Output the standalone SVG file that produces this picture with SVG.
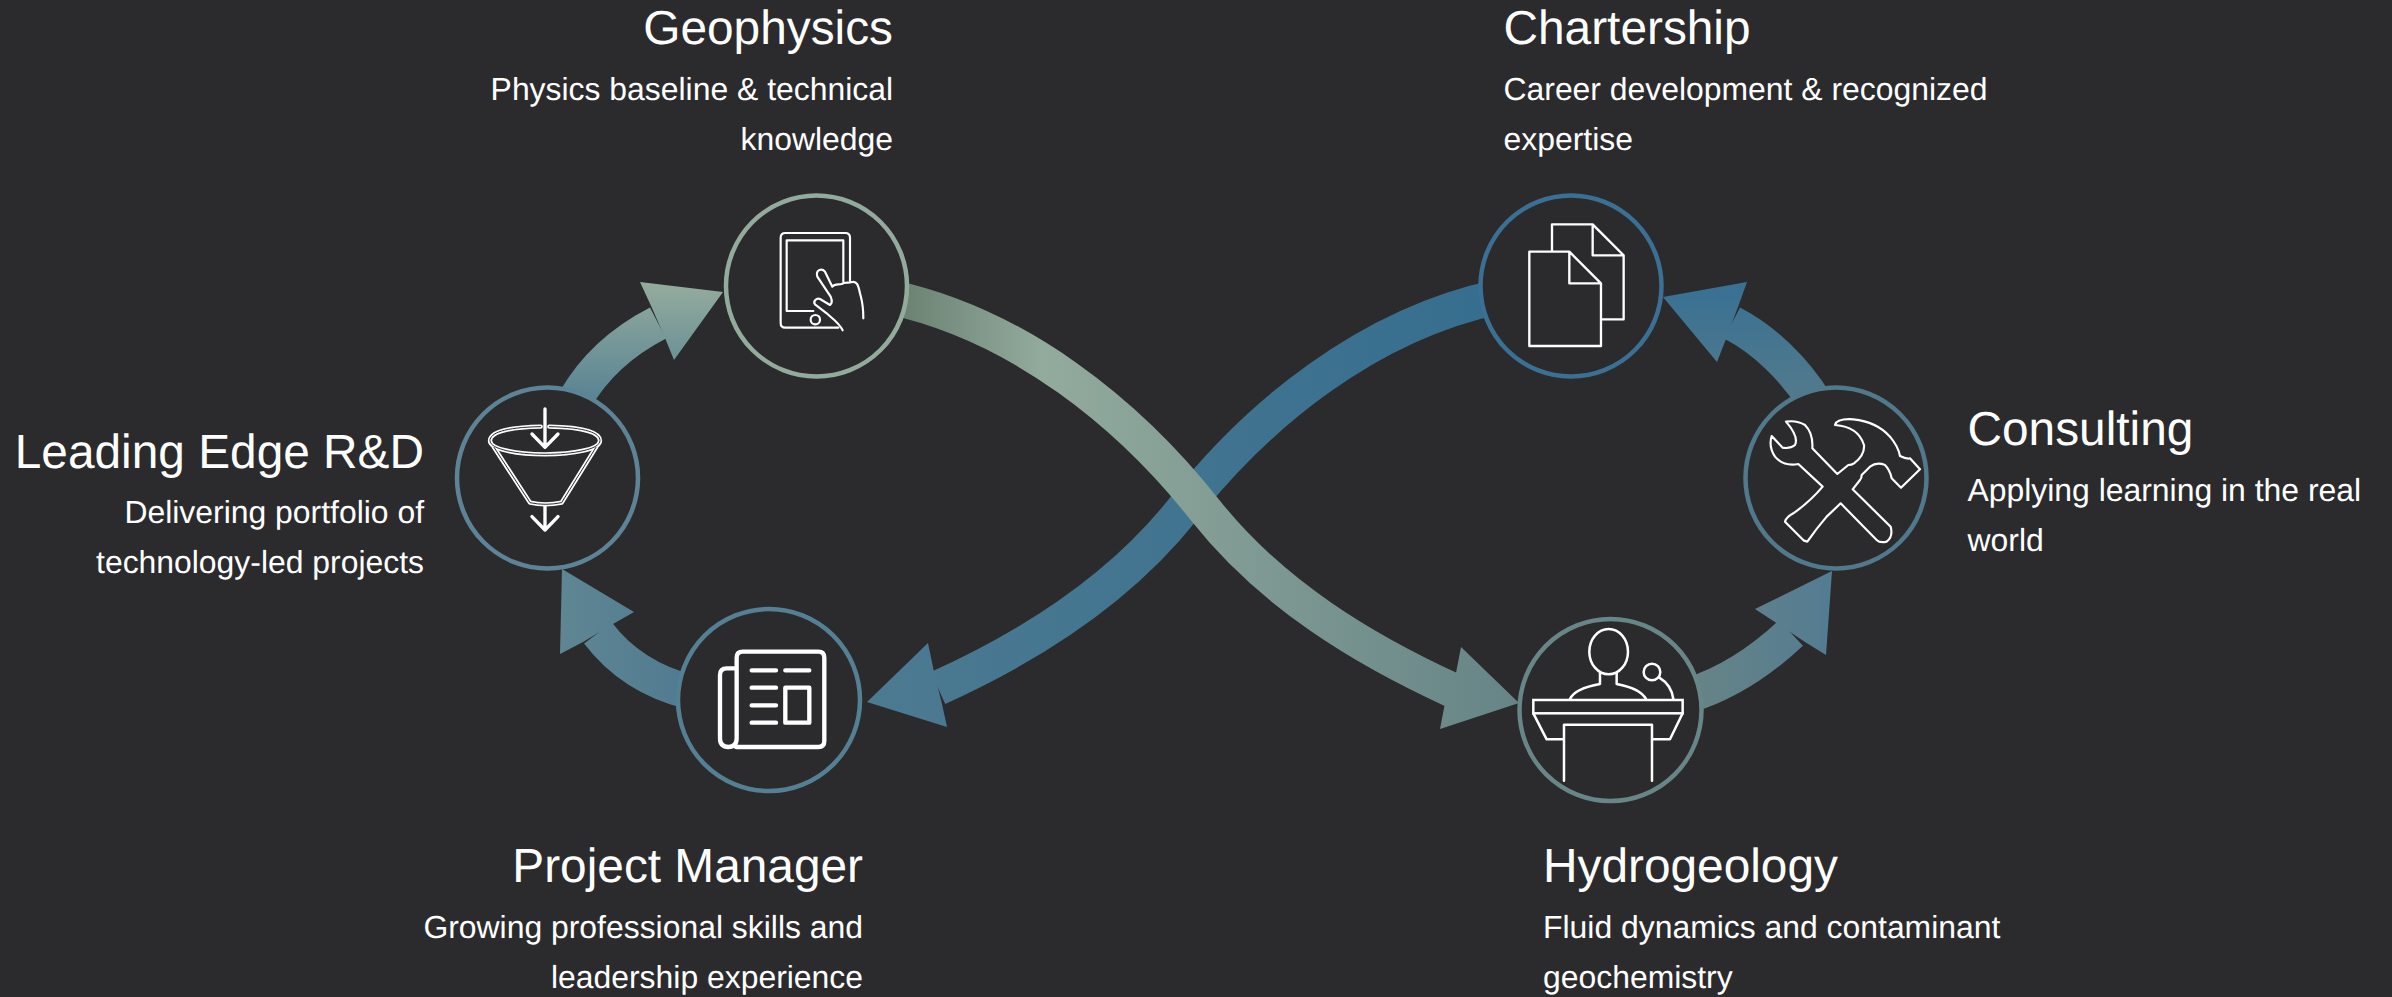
<svg xmlns="http://www.w3.org/2000/svg" width="2392" height="997" viewBox="0 0 2392 997">
<style>
text{font-family:"Liberation Sans",Arial,sans-serif;fill:#fff;text-rendering:geometricPrecision}
.t{font-size:47.8px}
.b{font-size:31.9px}
.e{text-anchor:end}
.band{fill:none;stroke-width:35}
.ring{fill:#2b2b2d;stroke-width:4.5}
.ic{fill:none;stroke:#fff;stroke-linecap:round;stroke-linejoin:round}
</style>
<defs>
<linearGradient id="gA" gradientUnits="userSpaceOnUse" x1="0" y1="285" x2="0" y2="395"><stop offset="0" stop-color="#93ab9d"/><stop offset="1" stop-color="#5b8594"/></linearGradient>
<linearGradient id="gB" gradientUnits="userSpaceOnUse" x1="893" y1="0" x2="1519" y2="0"><stop offset="0" stop-color="#687f70"/><stop offset=".24" stop-color="#93ab9d"/><stop offset="1" stop-color="#668487"/></linearGradient>
<linearGradient id="gC" gradientUnits="userSpaceOnUse" x1="1497" y1="0" x2="867" y2="0"><stop offset="0" stop-color="#366e8f"/><stop offset="1" stop-color="#4c7a91"/></linearGradient>
<linearGradient id="gD" gradientUnits="userSpaceOnUse" x1="680" y1="0" x2="560" y2="0"><stop offset="0" stop-color="#517b91"/><stop offset="1" stop-color="#5f8692"/></linearGradient>
<linearGradient id="gE" gradientUnits="userSpaceOnUse" x1="1700" y1="0" x2="1832" y2="0"><stop offset="0" stop-color="#668487"/><stop offset="1" stop-color="#537b92"/></linearGradient>
<linearGradient id="gF" gradientUnits="userSpaceOnUse" x1="0" y1="290" x2="0" y2="395"><stop offset="0" stop-color="#397193"/><stop offset="1" stop-color="#527a8c"/></linearGradient>
</defs>
<rect width="2392" height="997" fill="#2b2b2d"/>
<g id="connectors">
<g id="c-chartership-project">
<path class="band" stroke="url(#gC)" d="M1497,297 C1367,325 1257,415 1182.5,510 C1115,595 1022,650 938,688"/>
<path fill="url(#gC)" d="M934,672 L928,643 L867,702 L947,727 L942,704 Z"/>
</g>
<g id="c-geophysics-hydrogeology">
<path class="band" stroke="url(#gB)" d="M890,297 C1020,325 1130,415 1205,510 C1272,595 1365,650 1452,690"/>
<path fill="url(#gB)" d="M1456,673 L1461,647 L1519,703 L1440,729 L1445,703 Z"/>
</g>
<g id="c-rd-geophysics">
<path class="band" stroke="url(#gA)" d="M575,400 C595,365 625,340 658,323"/>
<path fill="url(#gA)" d="M652,308 L640,282 L723,292 L674,360 L665,338 Z"/>
</g>
<g id="c-project-rd">
<path class="band" stroke="url(#gD)" d="M690,692 C650,682 620,662 598,633"/>
<path fill="url(#gD)" d="M613,624 L634,612 L562,569 L560,654 L583,642 Z"/>
</g>
<g id="c-hydrogeology-consulting">
<path class="band" stroke="url(#gE)" d="M1690,695 C1725,684 1760,662 1791,633"/>
<path fill="url(#gE)" d="M1778,624 L1755,609 L1832,571 L1826,655 L1805,642 Z"/>
</g>
<g id="c-consulting-chartership">
<path class="band" stroke="url(#gF)" d="M1815,402 C1795,370 1765,340 1732,323"/>
<path fill="url(#gF)" d="M1738,307 L1747,282 L1663,297 L1717,362 L1726,339 Z"/>
</g>
</g>

<g id="node-geophysics">
<circle class="ring" cx="816.5" cy="286" r="90.5" stroke="#93ab9d"/>
<g class="ic" stroke-width="6.5" transform="translate(770 225) scale(.3333)">
<path d="M240,168 V38 Q240,24 226,24 H46 Q32,24 32,38 V294 Q32,308 46,308 H205"/>
<path d="M220,170 V46 H50 V258 H130"/>
<circle cx="136" cy="284" r="14"/>
<path d="M218,316 C205,290 185,280 170,265 L135,238 C128,228 140,218 150,222 L180,240 C188,235 186,225 182,215 L142,155 C136,135 155,128 165,140 L187,185 C195,175 205,180 215,177 C225,170 235,175 243,172 C260,165 265,180 270,205 C275,225 280,235 280,280"/>
</g>
<text class="t e" x="893" y="44">Geophysics</text>
<text class="b e" x="893" y="100">Physics baseline &amp; technical</text>
<text class="b e" x="893" y="150">knowledge</text>
</g>

<g id="node-rd">
<circle class="ring" cx="547.5" cy="478" r="90.5" stroke="#5d8496"/>
<g transform="translate(420 170) scale(.3333)" fill="none" stroke-linecap="round" stroke-linejoin="round">
<g stroke="#fff" stroke-width="13">
<path d="M362,770 C250,772 210,790 210,812 C210,838 290,853 375,853 C460,853 540,838 540,812 C540,790 500,772 388,770"/>
<path d="M222,832 L330,998 Q375,1008 425,998 L528,832"/>
</g>
<g stroke="#fff" stroke-width="10">
<path d="M375,717 V832 M336,792 L375,832 L414,792"/>
<path d="M375,1005 V1080 M336,1040 L375,1080 L414,1040"/>
</g>
<g stroke="#2b2b2d" stroke-width="3">
<path d="M362,770 C250,772 210,790 210,812 C210,838 290,853 375,853 C460,853 540,838 540,812 C540,790 500,772 388,770"/>
<path d="M222,832 L330,998 Q375,1008 425,998 L528,832"/>
</g>
</g>
<text class="t e" x="424" y="468">Leading Edge R&amp;D</text>
<text class="b e" x="424" y="523">Delivering portfolio of</text>
<text class="b e" x="424" y="573">technology-led projects</text>
</g>

<g id="node-project">
<circle class="ring" cx="769" cy="700" r="91" stroke="#557f93"/>
<g class="ic" stroke-width="13" transform="translate(640 560) scale(.3333)">
<path d="M288,561 H535 Q553,561 553,543 V293 Q553,275 535,275 H308 Q290,275 290,293 V535 Q290,561 265,561 Q240,561 240,535 V345 Q240,325 260,325 H290"/>
<path d="M335,331 H408 M335,383 H408 M335,436 H408 M335,488 H408 M436,331 H508"/>
<rect x="436" y="383" width="72" height="105"/>
</g>
<text class="t e" x="863" y="882">Project Manager</text>
<text class="b e" x="863" y="938">Growing professional skills and</text>
<text class="b e" x="863" y="988">leadership experience</text>
</g>

<g id="node-chartership">
<circle class="ring" cx="1571" cy="286" r="90.5" stroke="#3a7093"/>
<g class="ic" stroke-width="7" transform="translate(1450 180) scale(.3333)">
<path d="M306,212 V133 H428 L521,226 V418 H456 M428,133 V226 H521"/>
<path d="M238,215 H358 L453,310 V498 H238 Z M358,215 V310 H453"/>
</g>
<text class="t" x="1503.5" y="44">Chartership</text>
<text class="b" x="1503.5" y="100">Career development &amp; recognized</text>
<text class="b" x="1503.5" y="150">expertise</text>
</g>

<g id="node-consulting">
<circle class="ring" cx="1836" cy="478" r="90.5" stroke="#50798c"/>
<g class="ic" stroke-width="6.5" transform="translate(1730 380) scale(.3333)">
<path d="M125,168 L158,203 Q180,207 195,195 Q207,170 168,125 Q200,120 225,135 Q250,160 247,205 L322,282 L355,255 Q365,255 372,250 Q405,225 402,195 Q385,140 315,135 Q320,115 370,118 Q440,125 480,170 Q505,200 510,228 Q530,238 540,235 L570,268 L513,323 L485,295 Q480,270 465,255 Q440,245 420,260 L395,285 Q395,295 390,300 L368,328 L482,440 Q490,470 470,485 Q450,490 440,480 L332,370 L290,410 Q260,445 232,485 L222,482 L165,425 Q170,410 190,400 Q240,365 278,320 L205,252 Q160,260 135,230 Q115,200 125,168 Z"/>
</g>
<text class="t" x="1967.5" y="445">Consulting</text>
<text class="b" x="1967.5" y="501">Applying learning in the real</text>
<text class="b" x="1967.5" y="551">world</text>
</g>

<g id="node-hydrogeology">
<circle class="ring" cx="1610.5" cy="710" r="91" stroke="#688688"/>
<g class="ic" stroke-width="7.5" transform="translate(1480 560) scale(.3333)">
<ellipse cx="386" cy="275" rx="58" ry="68"/>
<path d="M360,338 V372 Q285,385 270,417 M410,338 V372 Q480,385 498,417"/>
<circle cx="516" cy="336" r="25"/>
<path d="M537,352 Q575,375 580,417"/>
<rect x="160" y="420" width="448" height="40" stroke-linejoin="miter"/>
<path d="M160,460 L200,538 H250 M608,460 L570,538 H518 M252,662 V494 H516 V662"/>
</g>
<text class="t" x="1543" y="882">Hydrogeology</text>
<text class="b" x="1543" y="938">Fluid dynamics and contaminant</text>
<text class="b" x="1543" y="988">geochemistry</text>
</g>
</svg>
